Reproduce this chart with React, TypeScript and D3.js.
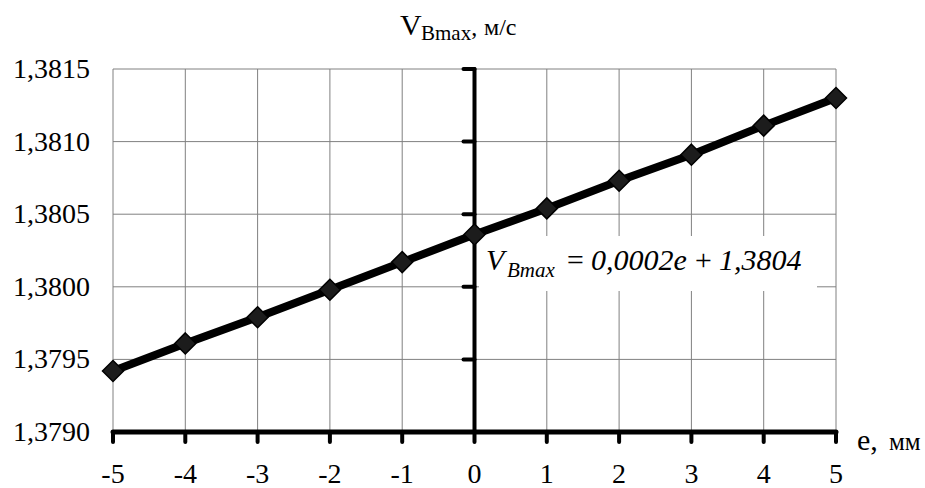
import React from "react";
import * as d3 from "d3";

const eValues = [-5, -4, -3, -2, -1, 0, 1, 2, 3, 4, 5];
const vValues = [1.37942, 1.37961, 1.37979, 1.37998, 1.38017, 1.38036, 1.38054, 1.38073, 1.38091, 1.38111, 1.3813];
const yTicks = [1.379, 1.3795, 1.38, 1.3805, 1.381, 1.3815];
const xTicks = [-5, -4, -3, -2, -1, 0, 1, 2, 3, 4, 5];

const W = 925;
const H = 488;
const SERIF = "Liberation Serif";

export default function App() {
  const x = d3.scaleLinear().domain([-5, 5]).range([113, 836]);
  const y = d3.scaleLinear().domain([1.379, 1.3815]).range([432, 69]);
  const line = d3
    .line<number>()
    .x((_, i) => x(eValues[i]))
    .y((d) => y(d));
  const fmtY = (v: number) => v.toFixed(4).replace(".", ",");
  const x0 = x(0);
  const diamond = (cx: number, cy: number, r: number) =>
    `M${cx},${cy - r}L${cx + r},${cy}L${cx},${cy + r}L${cx - r},${cy}Z`;

  return (
    <svg width={W} height={H} fontFamily={SERIF} style={{ display: "block", position: "absolute", left: 0, top: 0, fontFamily: SERIF }}>
      <rect x={0} y={0} width={W} height={H} fill="#fff" />
      {yTicks.map((t) => (
        <line key={"gy" + t} x1={x(-5)} x2={x(5)} y1={y(t)} y2={y(t)} stroke="#808080" strokeWidth={1} />
      ))}
      {xTicks.map((t) => (
        <line key={"gx" + t} x1={x(t)} x2={x(t)} y1={y(1.3815)} y2={y(1.379)} stroke="#808080" strokeWidth={1} />
      ))}
      <rect x={479} y={236} width={338} height={55} fill="#fff" />
      <line x1={x0} x2={x0} y1={y(1.3815)} y2={y(1.379)} stroke="#000" strokeWidth={4} strokeLinecap="round" />
      {yTicks.map((t) => (
        <line key={"yt" + t} x1={x0 - 11} x2={x0} y1={y(t)} y2={y(t)} stroke="#000" strokeWidth={4} strokeLinecap="round" />
      ))}
      <line x1={x(-5)} x2={x(5)} y1={y(1.379)} y2={y(1.379)} stroke="#000" strokeWidth={5} strokeLinecap="round" />
      {xTicks.map((t) => (
        <line key={"xt" + t} x1={x(t)} x2={x(t)} y1={y(1.379)} y2={y(1.379) + 10} stroke="#000" strokeWidth={4} strokeLinecap="round" />
      ))}
      <path d={line(vValues) || ""} fill="none" stroke="#000" strokeWidth={8} strokeLinejoin="round" />
      {vValues.map((v, i) => (
        <path key={"m" + i} d={diamond(x(eValues[i]), y(v), 10.5)} fill="#1c1c1c" stroke="#000" strokeWidth={1.5} />
      ))}
      {yTicks.map((t) => (
        <text key={"yl" + t} x={90} y={y(t) + 9} textAnchor="end" fontFamily={SERIF} fontSize={28} fill="#000">
          {fmtY(t)}
        </text>
      ))}
      {xTicks.map((t) => (
        <text key={"xl" + t} x={x(t)} y={483} textAnchor="middle" fontFamily={SERIF} fontSize={28} fill="#000">
          {String(t)}
        </text>
      ))}
      <text x={400} y={35} fontFamily={SERIF} fontSize={30} fill="#000">
        V<tspan x={421} fontSize={21} dy={5}>Bmax</tspan>
        <tspan dy={-5} fontSize={24}>, </tspan>
        <tspan x={484} fontSize={24}>м/с</tspan>
      </text>
      <text x={857} y={450} fontFamily={SERIF} fontSize={30} fill="#000">
        e,<tspan x={889} fontSize={25}>мм</tspan>
      </text>
      <text x={486} y={270} fontFamily={SERIF} fontStyle="italic" fontSize={30} fill="#000">
        V<tspan x={507} fontSize={21} dy={7}>Bmax</tspan>
        <tspan x={565} dy={-7}>=</tspan>
        <tspan x={591}>0,0002e</tspan>
        <tspan x={693}>+</tspan>
        <tspan x={719}>1,3804</tspan>
      </text>
    </svg>
  );
}
